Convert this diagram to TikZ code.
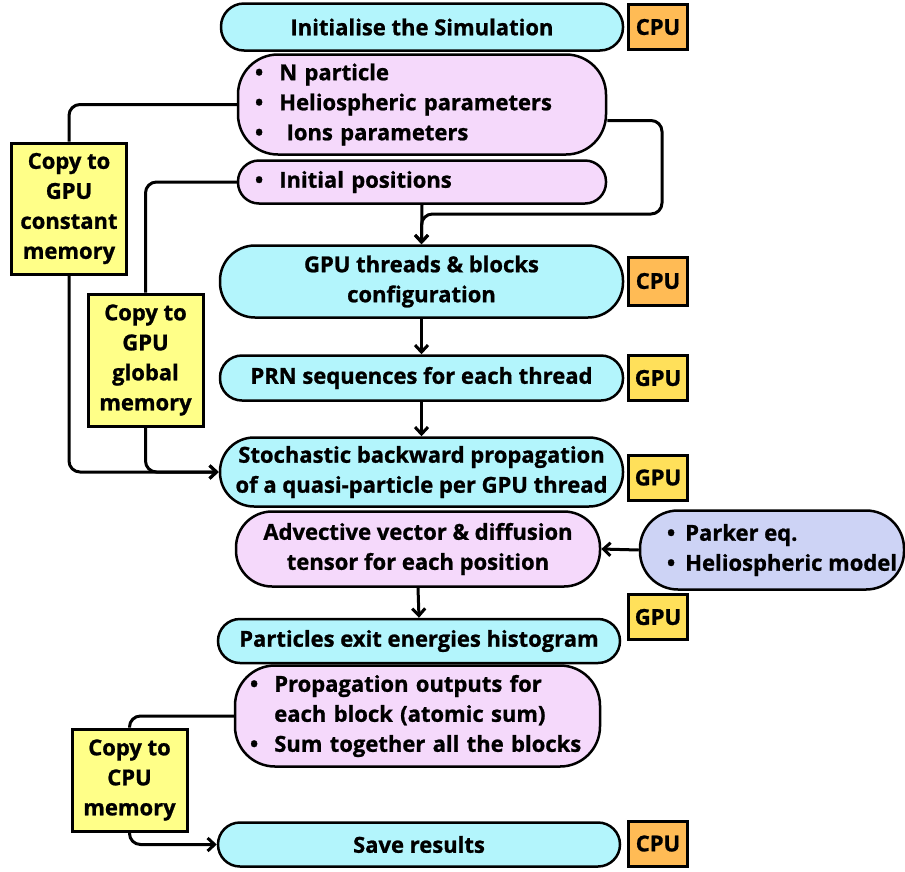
\documentclass[tikz,border=0pt]{standalone}
\usepackage{fontspec}
\setmainfont{Open Sans}[BoldFeatures={FakeBold=1}]
\usetikzlibrary{arrows.meta,positioning,calc}
\definecolor{cyanbox}{HTML}{B3F5FC}
\definecolor{pinkbox}{HTML}{F5D9FB}
\definecolor{lavbox}{HTML}{CDD3F5}
\definecolor{cpubox}{HTML}{FFBB55}
\definecolor{gpubox}{HTML}{FFE05A}
\definecolor{notebox}{HTML}{FFFF88}
\newcommand{\itm}{•\hspace{16pt}}
\newcommand{\itmnarrow}{\hspace*{20pt}•\hspace{10pt}}

\begin{document}
\begin{tikzpicture}[
  x=1pt,y=-1pt,
  font=\fontsize{22}{30}\selectfont\bfseries,
  stage/.style={draw,line width=2.5pt,fill=cyanbox,align=center,inner sep=0pt},
  info/.style={draw,line width=2.5pt,fill=pinkbox,align=left,inner sep=0pt},
  tag/.style={draw,line width=3pt,minimum width=59pt,minimum height=45pt,inner sep=0pt},
  memo/.style={draw,line width=3pt,fill=notebox,align=center,inner sep=0pt,minimum width=115pt},
  conn/.style={line width=3pt,rounded corners=11pt},
  arr/.style={conn,-{Straight Barb[length=7pt,width=13pt]}},
]
  \useasboundingbox (0,0) rectangle (905,871);

  % main column
  \node[stage,minimum width=402pt,minimum height=47pt,rounded corners=23pt] (init) at (422,27) {Initialise the Simulation};
  \node[info,minimum width=368pt,minimum height=100pt,rounded corners=40pt,text width=334pt] (params) at (422,104.5)
    {\itm N particle\\\itm Heliospheric parameters\\\itm\ Ions parameters};
  \node[info,minimum width=368pt,minimum height=43pt,rounded corners=21pt,text width=334pt] (initpos) at (422,182)
    {\itm Initial positions};
  \node[stage,minimum width=403pt,minimum height=72pt,rounded corners=35pt] (config) at (421.5,281.5)
    {GPU threads \& blocks\\configuration};
  \node[stage,minimum width=403pt,minimum height=45pt,rounded corners=22pt] (prn) at (421.5,378)
    {PRN sequences for each thread};
  \node[stage,minimum width=403pt,minimum height=69pt,rounded corners=34pt] (stoch) at (421.5,472)
    {Stochastic backward propagation\\of a quasi-particle per GPU thread};
  \node[info,align=center,minimum width=364pt,minimum height=75pt,rounded corners=36pt] (advect) at (418,549)
    {Advective vector \& diffusion\\tensor for each position};
  \node[draw,line width=2.5pt,fill=lavbox,align=left,inner sep=0pt,minimum width=264pt,minimum height=79pt,
    rounded corners=38pt] (parker) at (772,550)
    {\itmnarrow Parker eq.\\\itmnarrow Heliospheric model};
  \node[stage,minimum width=402pt,minimum height=44pt,rounded corners=22pt] (partic) at (419,641)
    {Particles exit energies histogram};
  \node[info,minimum width=365pt,minimum height=101pt,rounded corners=40pt,text width=335pt] (propag) at (417.5,716)
    {\itm Propagation outputs for\\\hphantom{\itm}each block (atomic sum)\\\itm Sum together all the blocks};
  \node[stage,minimum width=402pt,minimum height=44pt,rounded corners=22pt] (save) at (419,844.5)
    {Save results};

  % processor tags
  \node[tag,fill=cpubox] (cpuA) at (658,27) {CPU};
  \node[tag,fill=cpubox,minimum height=48pt] (cpuB) at (658,281) {CPU};
  \node[tag,fill=gpubox] (gpuA) at (658,378) {GPU};
  \node[tag,fill=gpubox] (gpuB) at (658,477.5) {GPU};
  \node[tag,fill=gpubox] (gpuC) at (658,617) {GPU};
  \node[tag,fill=cpubox] (cpuC) at (658,843.5) {CPU};

  % memory copies
  \node[memo,minimum height=131pt] (constmem) at (69,208.5) {Copy to\\GPU\\constant\\memory};
  \node[memo,minimum height=132pt] (globmem) at (145.5,360) {Copy to\\GPU\\global\\memory};
  \node[memo,minimum height=102pt] (cpumem) at (129.5,780) {Copy to\\CPU\\memory};

  \coordinate (turn) at (662,214);

  % connectors
  \draw[conn] (params.west) -| (constmem.north);
  \draw[arr] (constmem.south) |- (stoch.west);
  \draw[conn] (initpos.west) -| (globmem.north);
  \draw[arr] (globmem.south) |- (stoch.west);
  \draw[arr] ([yshift=-16pt]params.east) -| (turn) -| (config.north);
  \draw[arr] (initpos.south) -- (config.north);
  \draw[arr] (config.south) -- (prn.north);
  \draw[arr] (prn.south) -- (stoch.north);
  \draw[arr] (parker.west) -- (advect.east);
  \draw[arr] (advect.south) -- (partic.north);
  \draw[conn] (propag.west) -| (cpumem.north);
  \draw[arr] (cpumem.south) |- (save.west);
\end{tikzpicture}
\end{document}
